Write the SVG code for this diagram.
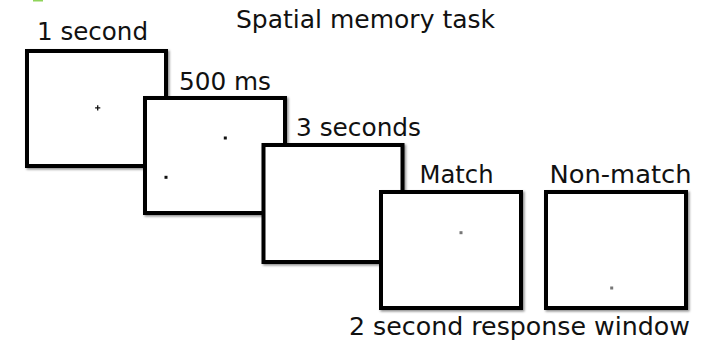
<svg xmlns="http://www.w3.org/2000/svg" width="705" height="345" viewBox="0 0 705 345">
<defs>
<filter id="sh" x="-10%" y="-10%" width="130%" height="130%">
<feDropShadow dx="1.5" dy="1.5" stdDeviation="1.2" flood-color="#000" flood-opacity="0.45"/>
</filter>
</defs>
<style>
.box{fill:#fff;stroke:#000;stroke-width:4;filter:url(#sh)}
.lbl{font-family:"DejaVu Sans","Liberation Sans",sans-serif;font-size:25.5px;fill:#111}
.dk{fill:#111}
.gr{fill:#777}
</style>
<rect x="33" y="0" width="10" height="1.5" fill="#8fd45a"/>
<text class="lbl" x="236" y="28" textLength="259" lengthAdjust="spacingAndGlyphs">Spatial memory task</text>
<g id="screen1">
<rect class="box" x="27" y="51" width="139" height="115"/>
<text class="lbl" x="37" y="40" textLength="111" lengthAdjust="spacingAndGlyphs">1 second</text>
<path d="M97.7 105.2v5.2M95.1 107.8h5.2" stroke="#111" stroke-width="1.3"/>
</g>
<g id="screen2">
<rect class="box" x="145" y="98" width="140" height="115"/>
<text class="lbl" x="179" y="90" textLength="92" lengthAdjust="spacingAndGlyphs">500 ms</text>
<rect class="dk" x="223.8" y="136.5" width="3" height="3"/>
<rect class="dk" x="164.5" y="175.8" width="3" height="3"/>
</g>
<g id="screen3">
<rect class="box" x="263.5" y="145" width="139" height="117"/>
<text class="lbl" x="296" y="136" textLength="125" lengthAdjust="spacingAndGlyphs">3 seconds</text>
</g>
<g id="screen4">
<rect class="box" x="381" y="192" width="140" height="116"/>
<text class="lbl" x="419.5" y="182.5" textLength="74" lengthAdjust="spacingAndGlyphs">Match</text>
<rect class="gr" x="459.5" y="231.2" width="3" height="3"/>
</g>
<g id="screen5">
<rect class="box" x="546" y="192" width="140" height="116"/>
<text class="lbl" x="549.5" y="182.5" textLength="142" lengthAdjust="spacingAndGlyphs">Non-match</text>
<rect class="gr" x="610.2" y="286.5" width="3" height="3"/>
</g>
<text class="lbl" x="349" y="335" textLength="341" lengthAdjust="spacingAndGlyphs">2 second response window</text>
<g id="connectors"></g>
</svg>
